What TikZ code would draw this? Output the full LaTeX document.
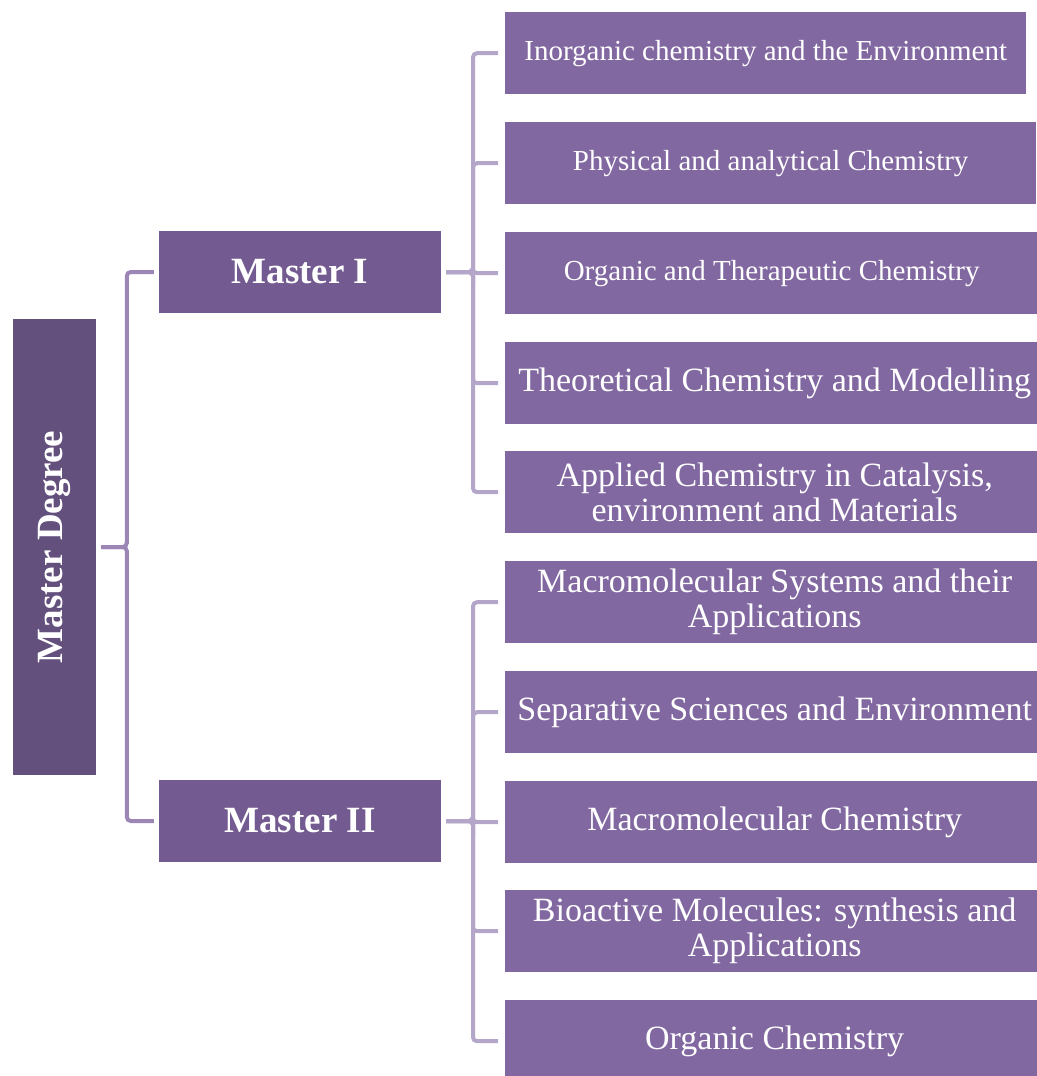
\documentclass[tikz,border=0pt]{standalone}
\usepackage{fontspec}
\setmainfont{Liberation Serif}
\definecolor{rootfill}{HTML}{63507D}
\definecolor{masterfill}{HTML}{735B91}
\definecolor{childfill}{HTML}{8268A1}
\definecolor{rootlink}{HTML}{9B86B5}
\definecolor{childlink}{HTML}{B3A6C9}
\begin{document}
\begin{tikzpicture}[x=1pt,y=-1pt,
  basebox/.style={rectangle, inner sep=0pt, text=white, align=center},
  rootbox/.style={basebox, fill=rootfill, minimum width=456pt, minimum height=83pt,
    rotate=90, font=\fontsize{37}{40}\selectfont\bfseries},
  masterbox/.style={basebox, fill=masterfill, minimum width=282pt, minimum height=82pt,
    font=\fontsize{37}{40}\selectfont\bfseries},
  childbox/.style={basebox, fill=childfill, minimum height=82pt, anchor=north west},
  smalltxt/.style={font=\fontsize{29}{31}\selectfont},
  bigtxt/.style={font=\fontsize{34}{35}\selectfont},
  rootline/.style={draw=rootlink, line width=4pt, rounded corners=4pt},
  subline/.style={draw=childlink, line width=4pt, rounded corners=4pt}]
\useasboundingbox (0,0) rectangle (1036,1076);

% root and the two levels
\node[rootbox] (root) at (54.5,547) {Master Degree};
\node[masterbox] (m1) at (300,272) {Master I};
\node[masterbox] (m2) at (300,821) {Master II};

% specialities of Master I
\node[childbox, smalltxt, minimum width=521pt] (c1) at (505,12) {Inorganic chemistry and the Environment};
\node[childbox, smalltxt, minimum width=531pt] (c2) at (505,122) {Physical and analytical Chemistry};
\node[childbox, smalltxt, minimum width=533pt] (c3) at (505,232) {Organic and Therapeutic Chemistry};
\node[childbox, bigtxt, minimum width=539pt] (c4) at (505,342) {Theoretical Chemistry and Modelling};
\node[childbox, bigtxt, minimum width=539pt] (c5) at (505,451) {Applied Chemistry in Catalysis,\\environment and Materials};

% specialities of Master II
\node[childbox, bigtxt, minimum width=539pt] (c6) at (505,561) {Macromolecular Systems and their\\Applications};
\node[childbox, bigtxt, minimum width=539pt] (c7) at (505,671) {Separative Sciences and Environment};
\node[childbox, bigtxt, minimum width=539pt] (c8) at (505,781) {Macromolecular Chemistry};
\node[childbox, bigtxt, minimum width=539pt] (c9) at (505,890) {Bioactive Molecules: synthesis and\\Applications};
\node[childbox, bigtxt, minimum width=539pt] (c10) at (505,1000) {Organic Chemistry};

% root brackets
\foreach \m in {m1,m2}
  \draw[rootline] ([xshift=-5pt]\m.west) -- ++(-27,0) |- ([xshift=5pt]root.south);

% Master I brackets
\foreach \c in {c1,c2,c3,c4,c5}
  \draw[subline] ([xshift=-7pt]\c.west) -- ++(-25,0) |- ([xshift=5pt]m1.east);

% Master II brackets
\foreach \c in {c6,c7,c8,c9,c10}
  \draw[subline] ([xshift=-7pt]\c.west) -- ++(-25,0) |- ([xshift=5pt]m2.east);
\end{tikzpicture}
\end{document}
